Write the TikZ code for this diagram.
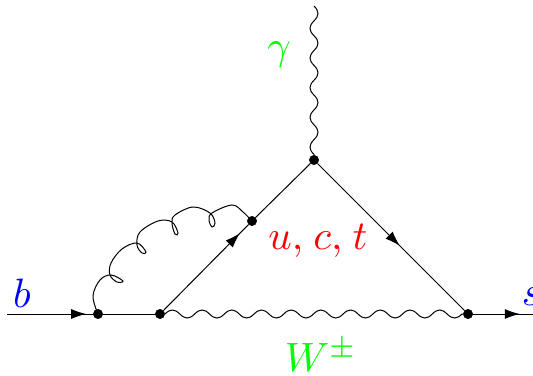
\documentclass[tikz,border=0pt]{standalone}
\usepackage{amsmath,amssymb}
\usepackage{xcolor}
\usetikzlibrary{decorations.markings, arrows.meta}

% Half sine arcs, so that the wave runs right up to its end point
\pgfdeclaredecoration{bosonwave}{up}{
    \state{up}[width=.5\pgfdecorationsegmentlength, next state=down]{
        \pgfpathcurveto
            {\pgfqpoint{.18\pgfdecorationsegmentlength}{1.333\pgfdecorationsegmentamplitude}}
            {\pgfqpoint{.32\pgfdecorationsegmentlength}{1.333\pgfdecorationsegmentamplitude}}
            {\pgfqpoint{.5\pgfdecorationsegmentlength}{0pt}}
    }
    \state{down}[width=.5\pgfdecorationsegmentlength, next state=up]{
        \pgfpathcurveto
            {\pgfqpoint{.18\pgfdecorationsegmentlength}{-1.333\pgfdecorationsegmentamplitude}}
            {\pgfqpoint{.32\pgfdecorationsegmentlength}{-1.333\pgfdecorationsegmentamplitude}}
            {\pgfqpoint{.5\pgfdecorationsegmentlength}{0pt}}
    }
    \state{final}{\pgfpathlineto{\pgfpointdecoratedpathlast}}
}

\begin{document}
\begin{tikzpicture}[
        x=1pt, y=-1pt,
        % Define styles for diagram elements
        vertex/.style={circle, fill=black, draw=black, inner sep=0pt, minimum size=9.5pt},
        fermion/.style={line width=1pt, postaction={decorate}, decoration={markings,
            mark=at position #1 with {\arrow{Latex[length=15pt, width=10pt]}}}},
        plainline/.style={line width=1pt},
        boson/.style={line width=1pt, decorate, decoration={bosonwave, amplitude=4pt, segment length=#1}},
        gluon/.style={line width=1pt},
        label/.style={font=\normalsize, scale=4.1, inner sep=0pt}
    ]
        \useasboundingbox (0,0) rectangle (533,375);

        % --------------------------------------------------------
        % Vertices and free ends
        % --------------------------------------------------------
        \coordinate (bin) at (7,314);
        \coordinate (sout) at (533,314);
        \coordinate (gammaend) at (314,6);
        \node[vertex] (gluonstart) at (98,314) {};
        \node[vertex] (wstart) at (160,314) {};
        \node[vertex] (gluonend) at (252,221) {};
        \node[vertex] (top) at (314,160) {};
        \node[vertex] (wend) at (468,314) {};

        % --------------------------------------------------------
        % Fermion lines
        % --------------------------------------------------------
        \draw[fermion=0.92] (bin) -- (gluonstart);
        \draw[plainline] (gluonstart) -- (wstart);
        \draw[fermion=0.9] (wstart) -- (gluonend);
        \draw[plainline] (gluonend) -- (top);
        \draw[fermion=0.56] (top) -- (wend);
        \draw[fermion=0.78] (wend) -- (sout);

        % --------------------------------------------------------
        % Bosons
        % --------------------------------------------------------
        \draw[boson=29.7pt] (gammaend) -- (top);
        \draw[boson=29.7pt] (wstart) -- (wend);
        \draw[gluon] plot[smooth, tension=0.6] coordinates {(gluonstart) (93,296) (100,280) (111,275)
            (123,281) (117,282) (110,275) (111,263) (122,249) (137,243)
            (146,252) (142,253) (137,245) (140,232) (158,221) (172,222)
            (178,233) (175,234) (172,223) (175,215) (193,207) (210,213)
            (215,223) (212,227) (209,220) (212,213) (232,205) (243,212) (gluonend)};

        % --------------------------------------------------------
        % Labels
        % --------------------------------------------------------
        \node[label, text=green] (gammalabel) at (279,55) {$\gamma$};
        \node[label, text=blue] (blabel) at (22,293) {$b$};
        \node[label, text=blue, anchor=west] (slabel) at (521,297) {$s$};
        \node[label, text=red] (quarks) at (318,241) {$u,\mskip1.5mu c,\mskip1.5mu t$};
        \node[label, text=green] (wlabel) at (321,355) {$W^{\pm}$};
    \end{tikzpicture}
\end{document}
